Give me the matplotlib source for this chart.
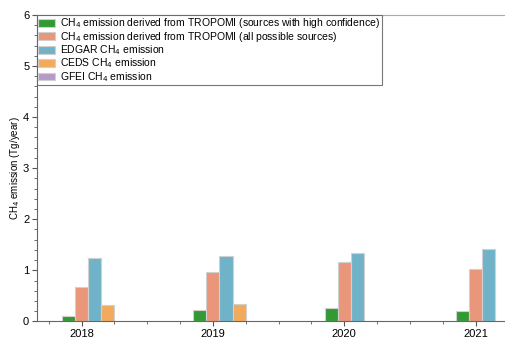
import numpy as np
import matplotlib
matplotlib.use("Agg")
import matplotlib.pyplot as plt
from matplotlib.ticker import MultipleLocator

years = [2018, 2019, 2020, 2021]
tropomi_high = [0.11, 0.22, 0.27, 0.20]
tropomi_all = [0.67, 0.96, 1.16, 1.03]
edgar = [1.24, 1.28, 1.33, 1.42]
ceds = [0.32, 0.35, np.nan, np.nan]
gfei = [np.nan, np.nan, np.nan, np.nan]

labels = [
    "CH$_4$ emission derived from TROPOMI (sources with high confidence)",
    "CH$_4$ emission derived from TROPOMI (all possible sources)",
    "EDGAR CH$_4$ emission",
    "CEDS CH$_4$ emission",
    "GFEI CH$_4$ emission",
]
series = [tropomi_high, tropomi_all, edgar, ceds, gfei]
colors = ["#339a33", "#e9967a", "#70b3c9", "#f4aa5c", "#b69ac8"]

plt.rcParams["font.family"] = ["Liberation Sans", "DejaVu Sans"]

fig = plt.figure(figsize=(5.05, 3.38), dpi=100)
ax = fig.add_axes([0.073, 0.049, 0.96, 0.907])

x = np.array(years, dtype=float)
w = 0.1
for i, (vals, lbl, c) in enumerate(zip(series, labels, colors)):
    ax.bar(x + (i - 1) * w, vals, width=w, color=c, edgecolor="#d0d0d0",
           linewidth=0.8, label=lbl)

ax.set_xlim(2017.66, 2021.35)
ax.set_ylim(0, 6)
ax.set_xticks(years)
ax.set_xticklabels([str(y) for y in years])
ax.xaxis.set_minor_locator(MultipleLocator(0.25))
ax.yaxis.set_major_locator(MultipleLocator(1))
ax.yaxis.set_minor_locator(MultipleLocator(0.2))
ax.tick_params(which="major", length=3.5, width=0.8, labelsize=8, pad=2,
               color="#555555")
ax.tick_params(which="minor", length=2, width=0.6, color="#555555")
ax.set_ylabel("CH$_4$ emission (Tg/year)", fontsize=7, labelpad=1)

ax.spines["right"].set_visible(False)
for s in ["left", "bottom"]:
    ax.spines[s].set_color("#666666")
ax.spines["top"].set_color("#aaaaaa")

leg = ax.legend(loc="upper left", fontsize=7.5, frameon=True, fancybox=False,
                borderaxespad=0, labelspacing=-0.05, handlelength=1.6,
                handleheight=0.75, handletextpad=0.5, borderpad=0.15)
leg.get_frame().set_edgecolor("#555555")
leg.get_frame().set_linewidth(0.8)

fig.savefig("out.png", dpi=100)
